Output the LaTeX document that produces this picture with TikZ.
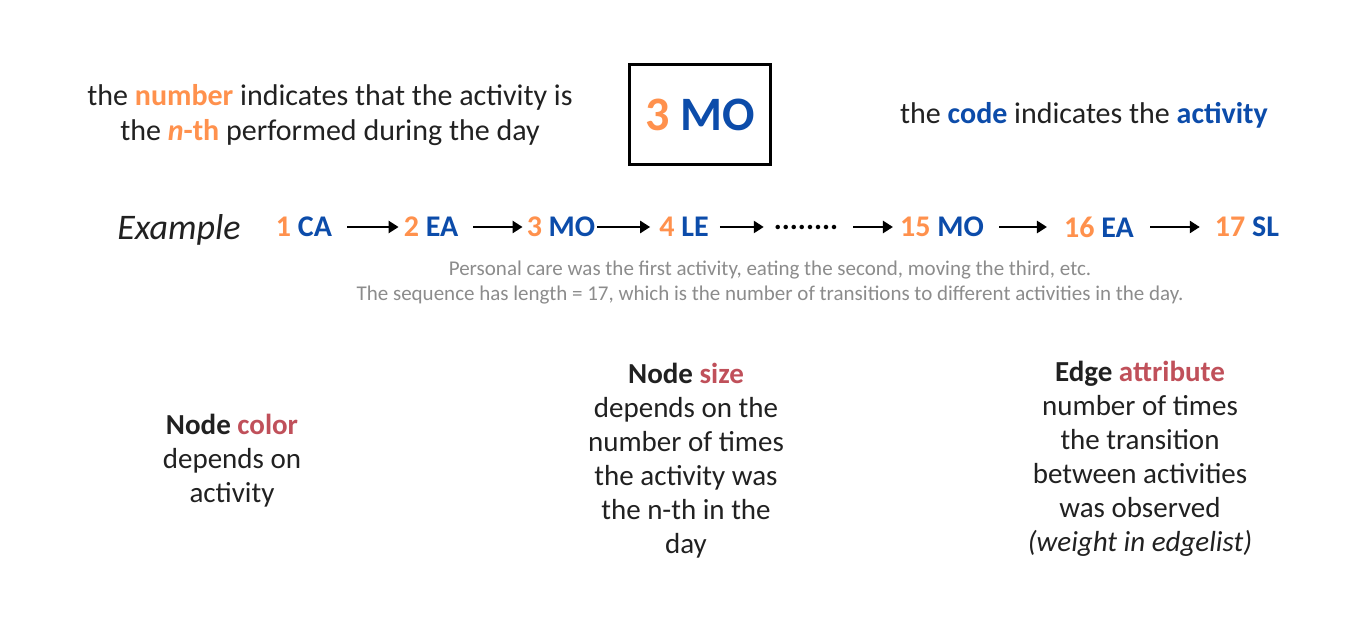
\documentclass[tikz,border=0pt]{standalone}
\usepackage{fontspec}
\setmainfont{Carlito}
\usetikzlibrary{arrows.meta}
\definecolor{numcol}{RGB}{255,145,77}
\definecolor{codecol}{RGB}{12,76,170}
\definecolor{attrcol}{RGB}{192,80,90}
\definecolor{notecol}{gray}{0.55}
\definecolor{textcol}{gray}{0.13}
\newcommand{\nm}[1]{\textcolor{numcol}{#1}}
\newcommand{\cd}[1]{\textcolor{codecol}{#1}}
\newcommand{\at}[1]{\textcolor{attrcol}{#1}}
\tikzset{
  txt/.style={font=\fontsize{29}{34}\selectfont,text=textcol,align=center,inner sep=0pt},
  toptxt/.style={font=\fontsize{30}{35}\selectfont,text=textcol,align=center,inner sep=0pt},
  seq/.style={font=\fontsize{30}{36}\selectfont\bfseries,inner sep=0pt},
  note/.style={font=\fontsize{21}{25}\selectfont,text=notecol,align=center,inner sep=0pt},
  nxt/.style={-{Triangle[length=10pt,width=12pt]},line width=2.8pt},
}

\begin{document}
\begin{tikzpicture}[x=1pt,y=-1pt]
  \useasboundingbox[fill=white] (0,0) rectangle (1364,617);
  % top row
  \node[toptxt] (numtxt) at (330,115) {the \textbf{\nm{number}} indicates that the activity is\\
    the \textbf{\nm{\itshape n}\nm{-th}} performed during the day};
  \node[draw,line width=3pt,minimum width=141pt,minimum height=100pt,
    font=\fontsize{48}{52}\selectfont\bfseries] (box) at (700,114.5) {\nm{3} \cd{MO}};
  \node[toptxt] (codetxt) at (1084,115) {the \textbf{\cd{code}} indicates the \textbf{\cd{activity}}};
  % example sequence
  \node[font=\fontsize{36}{40}\selectfont\itshape,text=textcol,inner sep=0pt] (ex) at (179,230) {Example};
  \node[seq] (s1) at (304,227) {\nm{1} \cd{CA}};
  \node[seq] (s2) at (431,227) {\nm{2} \cd{EA}};
  \node[seq] (s3) at (561,227) {\nm{3} \cd{MO}};
  \node[seq] (s4) at (684,227) {\nm{4} \cd{LE}};
  \node[seq] (dots) at (806,227) {........};
  \node[seq] (s15) at (942,227) {\nm{15} \cd{MO}};
  \node[seq] (s16) at (1099,227) {\nm{16} \cd{EA}};
  \node[seq] (s17) at (1247,227) {\nm{17} \cd{SL}};
  \draw[nxt,shorten <=15pt,shorten >=5pt] (s1.east) -- (s2.west);
  \draw[nxt,shorten <=15pt,shorten >=4pt] (s2.east) -- (s3.west);
  \draw[nxt,shorten <=2pt,shorten >=9pt] (s3.east) -- (s4.west);
  \draw[nxt,shorten <=11pt,shorten >=10pt] (s4.east) -- (dots.west);
  \draw[nxt,shorten <=15pt,shorten >=7pt] (dots.east) -- (s15.west);
  \draw[nxt,shorten <=15pt,shorten >=17pt] (s15.east) -- (s16.west);
  \draw[nxt,shorten <=16pt,shorten >=15pt] (s16.east) -- (s17.west);
  \node[note] (notes) at (770,283) {Personal care was the first activity, eating the second, moving the third, etc.\\
    The sequence has length = 17, which is the number of transitions to different activities in the day.};
  % legend
  \node[txt] (colnote) at (232,461) {\textbf{Node \at{color}}\\depends on\\activity};
  \node[txt] (sizenote) at (686,461) {\textbf{Node \at{size}}\\depends on the\\number of times\\the activity was\\the n-th in the\\day};
  \node[txt] (edgenote) at (1140,459) {\textbf{Edge \at{attribute}}\\number of times\\the transition\\between activities\\was observed\\\textit{(weight in edgelist)}};
\end{tikzpicture}
\end{document}
